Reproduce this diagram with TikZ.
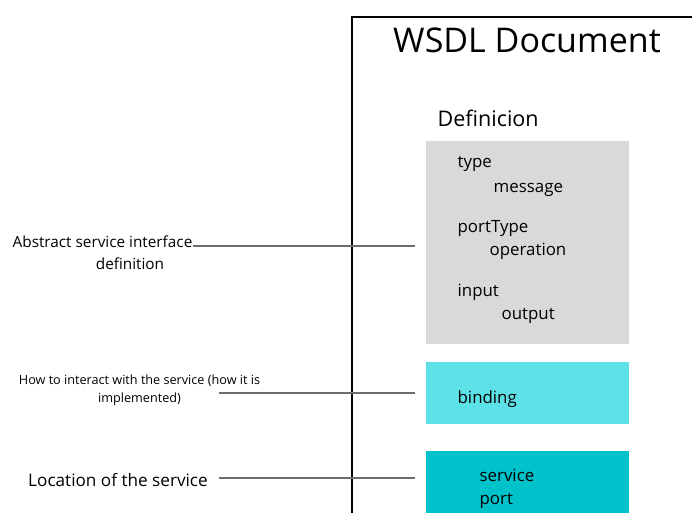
\documentclass[tikz,border=0pt]{standalone}
\usepackage{fontspec}
\setmainfont{Open Sans}
\usetikzlibrary{positioning}

\definecolor{defgray}{HTML}{D9D9D9}
\definecolor{bindcyan}{HTML}{5CE1E6}
\definecolor{servcyan}{HTML}{00C2CB}
\definecolor{leadgray}{HTML}{6E6E6E}

\begin{document}
\begin{tikzpicture}[line width=0.9pt,
    part/.style={anchor=west, inner sep=0pt, font=\fontsize{12}{14}\selectfont},
    note/.style={inner sep=0pt, font=\fontsize{10.9}{13}\selectfont},
    lead/.style={draw=leadgray, line width=1pt}]
  \useasboundingbox (0,0) rectangle (17.3,12.825);
  % document frame, cut off on the right and at the bottom
  \draw[line width=1.4pt] (8.8,0) -- (8.8,12.4) -- (17.3,12.4);
  \node (title) at (13.175,11.82) {\fontsize{24.2}{28}\selectfont WSDL Document};
  \node[anchor=west, inner sep=0pt] (defn) at (10.925,9.875) {\fontsize{15.3}{18}\selectfont Definicion};

  % the three parts
  \fill[defgray] (10.65,4.225) rectangle (15.725,9.3);
  \fill[bindcyan] (10.65,2.225) rectangle (15.725,3.775);
  \fill[servcyan] (10.65,0) rectangle (15.725,1.55);
  \node[part] (type) at (11.425,8.725) {type};
  \node[part] (msg) at (12.325,8.08) {message};
  \node[part] (ptype) at (11.425,7.1) {portType};
  \node[part] (oper) at (12.225,6.55) {operation};
  \node[part] (inp) at (11.425,5.52) {input};
  \node[part] (outp) at (12.525,4.925) {output};
  \node[part] (bind) at (11.425,2.85) {binding};
  \node[part] (serv) at (11.975,0.95) {service};
  \node[part] (port) at (11.975,0.3) {port};

  % notes on the left
  \node[note, anchor=east] (abs) at (4.825,6.775) {Abstract service interface};
  \node[note] (absdef) at (3.25,6.225) {definition};
  \node[note, align=center, font=\fontsize{9}{12.5}\selectfont] (how) at (3.4875,3.075)
    {How to interact with the service (how it is\\implemented)};
  \node[note, font=\fontsize{12.2}{14}\selectfont] (loc) at (2.95,0.83) {Location of the service};

  \coordinate (absend) at (10.375,6.675);
  \coordinate (howbeg) at (5.475,3.0);
  \coordinate (howend) at (10.375,3.0);
  \coordinate (locbeg) at (5.475,0.875);
  \coordinate (locend) at (10.375,0.875);
  \draw[lead] (abs.east |- absend) -- (absend);
  \draw[lead] (howbeg) -- (howend);
  \draw[lead] (locbeg) -- (locend);
\end{tikzpicture}
\end{document}
